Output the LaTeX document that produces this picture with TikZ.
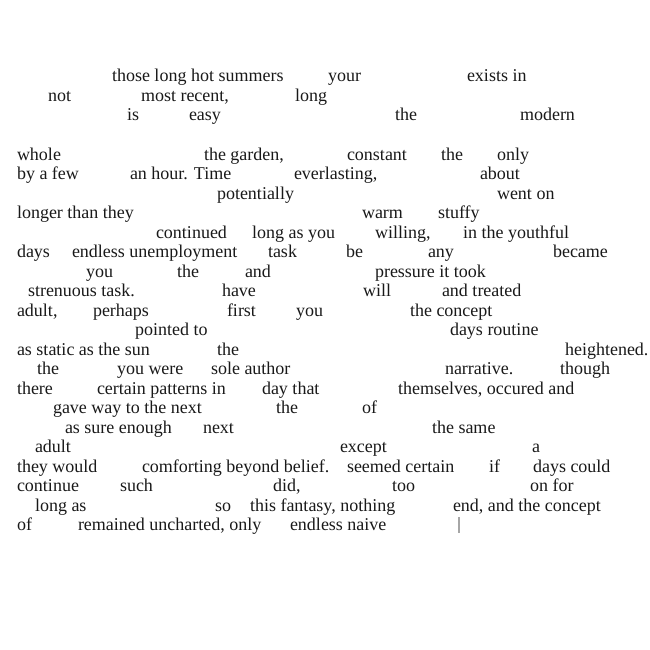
\documentclass[tikz,border=0pt]{standalone}
\usepackage{fontspec}
\setmainfont{Liberation Serif}
\begin{document}
\begin{tikzpicture}[x=1pt,y=-1pt,
  txt/.style={anchor=base west, inner sep=0pt, outer sep=0pt, font=\fontsize{18}{20}\selectfont, text=black!90},
  cursorline/.style={draw=black!35, line width=1.3pt}]
\useasboundingbox (0,0) rectangle (650,650);
% line 0
\node[txt] (a1) at (112,82) {those long hot summers};
\node[txt] (a2) at (328,82) {your};
\node[txt] (a3) at (467,82) {exists in};
% line 1
\node[txt] (b1) at (48,101.5) {not};
\node[txt] (b2) at (141,101.5) {most recent,};
\node[txt] (b3) at (295,101.5) {long};
% line 2
\node[txt] (c1) at (127,121) {is};
\node[txt] (c2) at (189,121) {easy};
\node[txt] (c3) at (395,121) {the};
\node[txt] (c4) at (520,121) {modern};
% line 4
\node[txt] (d1) at (17,160) {whole};
\node[txt] (d2) at (204,160) {the garden,};
\node[txt] (d3) at (347,160) {constant};
\node[txt] (d4) at (441,160) {the};
\node[txt] (d5) at (497,160) {only};
% line 5
\node[txt] (e1) at (17,179.5) {by a few};
\node[txt] (e2) at (130,179.5) {an hour. Time};
\node[txt] (e3) at (294,179.5) {everlasting,};
\node[txt] (e4) at (480,179.5) {about};
% line 6
\node[txt] (f1) at (217,199) {potentially};
\node[txt] (f2) at (497,199) {went on};
% line 7
\node[txt] (g1) at (17,218.5) {longer than they};
\node[txt] (g2) at (362,218.5) {warm};
\node[txt] (g3) at (438,218.5) {stuffy};
% line 8
\node[txt] (h1) at (156,238) {continued};
\node[txt] (h2) at (252,238) {long as you};
\node[txt] (h3) at (375,238) {willing,};
\node[txt] (h4) at (463,238) {in the youthful};
% line 9
\node[txt] (i1) at (17,257.5) {days};
\node[txt] (i2) at (72,257.5) {endless unemployment};
\node[txt] (i3) at (268,257.5) {task};
\node[txt] (i4) at (346,257.5) {be};
\node[txt] (i5) at (428,257.5) {any};
\node[txt] (i6) at (553,257.5) {became};
% line 10
\node[txt] (j1) at (86,277) {you};
\node[txt] (j2) at (177,277) {the};
\node[txt] (j3) at (245,277) {and};
\node[txt] (j4) at (375,277) {pressure it took};
% line 11
\node[txt] (k1) at (28,296.5) {strenuous task.};
\node[txt] (k2) at (222,296.5) {have};
\node[txt] (k3) at (363,296.5) {will};
\node[txt] (k4) at (442,296.5) {and treated};
% line 12
\node[txt] (l1) at (17,316) {adult,};
\node[txt] (l2) at (93,316) {perhaps};
\node[txt] (l3) at (227,316) {first};
\node[txt] (l4) at (296,316) {you};
\node[txt] (l5) at (410,316) {the concept};
% line 13
\node[txt] (m1) at (135,335.5) {pointed to};
\node[txt] (m2) at (450,335.5) {days routine};
% line 14
\node[txt] (n1) at (17,355) {as static as the sun};
\node[txt] (n2) at (217,355) {the};
\node[txt] (n3) at (565,355) {heightened.};
% line 15
\node[txt] (o1) at (37,374.5) {the};
\node[txt] (o2) at (117,374.5) {you were};
\node[txt] (o3) at (211,374.5) {sole author};
\node[txt] (o4) at (445,374.5) {narrative.};
\node[txt] (o5) at (560,374.5) {though};
% line 16
\node[txt] (p1) at (17,394) {there};
\node[txt] (p2) at (97,394) {certain patterns in};
\node[txt] (p3) at (262,394) {day that};
\node[txt] (p4) at (398,394) {themselves, occured and};
% line 17
\node[txt] (q1) at (53,413.5) {gave way to the next};
\node[txt] (q2) at (276,413.5) {the};
\node[txt] (q3) at (362,413.5) {of};
% line 18
\node[txt] (r1) at (65,433) {as sure enough};
\node[txt] (r2) at (203,433) {next};
\node[txt] (r3) at (432,433) {the same};
% line 19
\node[txt] (s1) at (35,452.5) {adult};
\node[txt] (s2) at (340,452.5) {except};
\node[txt] (s3) at (532,452.5) {a};
% line 20
\node[txt] (t1) at (17,472) {they would};
\node[txt] (t2) at (142,472) {comforting beyond belief.};
\node[txt] (t3) at (347,472) {seemed certain};
\node[txt] (t4) at (489,472) {if};
\node[txt] (t5) at (533,472) {days could};
% line 21
\node[txt] (u1) at (17,491.5) {continue};
\node[txt] (u2) at (120,491.5) {such};
\node[txt] (u3) at (273,491.5) {did,};
\node[txt] (u4) at (392,491.5) {too};
\node[txt] (u5) at (530,491.5) {on for};
% line 22
\node[txt] (v1) at (35,511) {long as};
\node[txt] (v2) at (215,511) {so};
\node[txt] (v3) at (250,511) {this fantasy, nothing};
\node[txt] (v4) at (453,511) {end, and the concept};
% line 23
\node[txt] (w1) at (17,530.5) {of};
\node[txt] (w2) at (78,530.5) {remained uncharted, only};
\node[txt] (w3) at (290,530.5) {endless naive};
% cursor
\coordinate (cur1) at (459,517);
\coordinate (cur2) at (459,532.5);
\draw[cursorline] (cur1) -- (cur2);
\end{tikzpicture}
\end{document}
